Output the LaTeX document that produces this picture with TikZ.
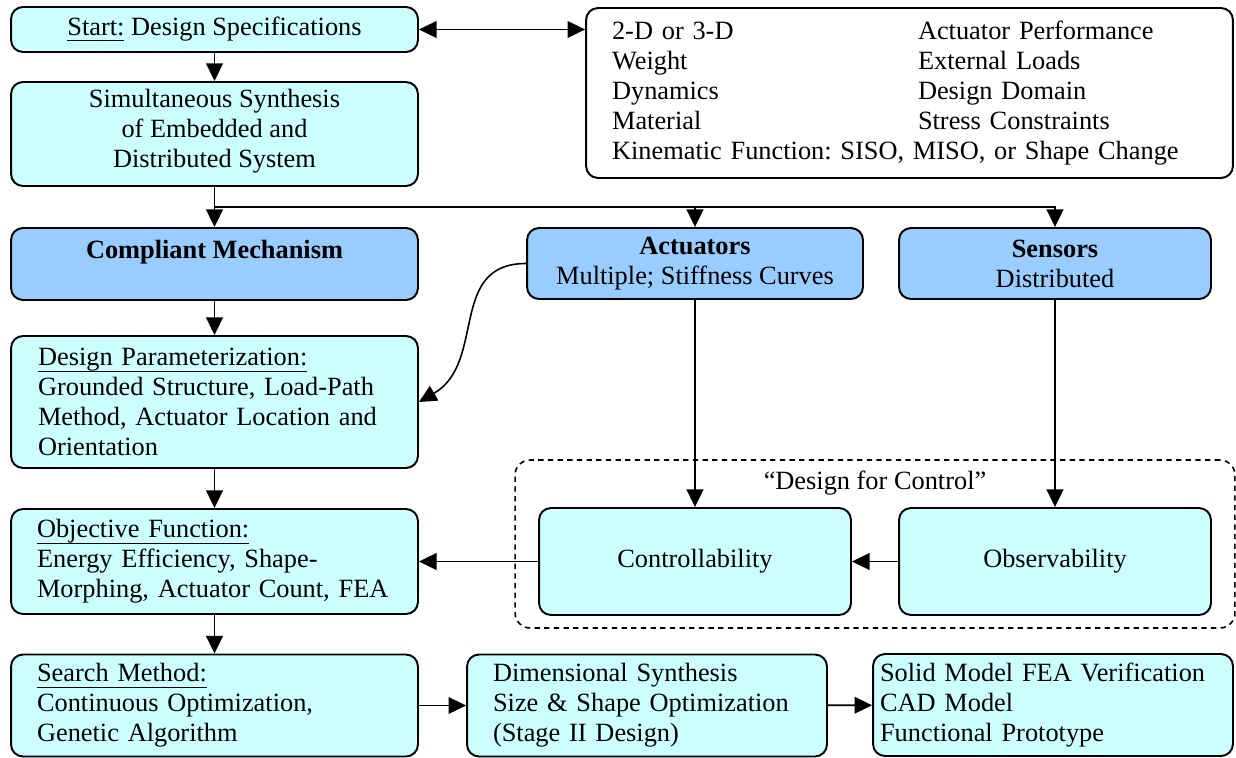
\documentclass[tikz,border=0pt]{standalone}
\usepackage{fontspec}
\setmainfont{Liberation Serif}
\frenchspacing
\usetikzlibrary{arrows.meta}
\definecolor{lightcyan}{HTML}{CCFFFF}
\definecolor{paleblue}{HTML}{99CCFF}
\newcommand{\ulhead}[1]{\underline{\raisebox{0pt}[\height][1.5pt]{#1}}}
\tikzset{
  box/.style={draw, line width=1.1pt, rounded corners=0.24cm, fill=lightcyan, inner sep=0pt,
    font=\fontsize{15}{17}\selectfont},
  bluebox/.style={box, fill=paleblue, align=center},
  leftbox/.style={box, align=left, inner xsep=0.52cm, text width=#1},
  arr/.style={line width=0.9pt, -{Triangle[length=10pt,width=9.5pt]}},
  twoarr/.style={line width=0.9pt, {Triangle[length=10pt,width=9.5pt]}-{Triangle[length=10pt,width=9.5pt]}},
}
\begin{document}
\begin{tikzpicture}[x=0.02cm, y=-0.02cm]
\useasboundingbox (0,0) rectangle (1236,757);

\node[draw, dash pattern=on 3pt off 2.5pt, line width=0.9pt, rounded corners=0.3cm,
  minimum width=14.4cm, minimum height=3.36cm] (dfc) at (875,544) {};
\node[font=\fontsize{15}{17}\selectfont] (dfclabel) at (875,483) {“Design for Control”};

\node[box, minimum width=8.14cm, minimum height=0.9cm] (start) at (214.5,29.5) {\ulhead{Start:} Design Specifications};
\node[box, minimum width=8.14cm, minimum height=2.08cm, align=center] (synth) at (214.5,134)
  {Simultaneous Synthesis\\of Embedded and\\Distributed System\vspace{3pt}};
\node[leftbox=11.9cm, fill=white, minimum width=12.94cm, minimum height=3.4cm] (specs) at (909.5,93)
  {\makebox[6.12cm][l]{2-D or 3-D}Actuator Performance\\
   \makebox[6.12cm][l]{Weight}External Loads\\
   \makebox[6.12cm][l]{Dynamics}Design Domain\\
   \makebox[6.12cm][l]{Material}Stress Constraints\\
   Kinematic Function: SISO, MISO, or Shape Change};

\node[bluebox, minimum width=8.14cm, minimum height=1.44cm] (comp) at (214.5,264) {\textbf{Compliant Mechanism}\\\mbox{}};
\node[bluebox, minimum width=6.72cm, minimum height=1.42cm] (act) at (695,263.5) {\textbf{Actuators}\\Multiple; Stiffness Curves};
\node[bluebox, minimum width=6.24cm, minimum height=1.42cm] (sens) at (1055,263.5) {\textbf{Sensors}\\Distributed};

\node[leftbox=7.06cm, inner xsep=0.54cm, minimum width=8.14cm, minimum height=2.64cm] (dp) at (214.5,402)
  {\ulhead{Design Parameterization:}\\Grounded Structure, Load-Path\\Method, Actuator Location and\\Orientation};
\node[leftbox=7.1cm, minimum width=8.14cm, minimum height=2.1cm] (obj) at (214.5,561.5)
  {\ulhead{Objective Function:}\\Energy Efficiency, Shape-\\Morphing, Actuator Count, FEA};
\node[leftbox=7.1cm, minimum width=8.14cm, minimum height=2.04cm] (search) at (214.5,705.5)
  {\ulhead{Search Method:}\\Continuous Optimization,\\Genetic Algorithm};

\node[box, minimum width=6.24cm, minimum height=2.14cm] (ctrl) at (695,561.5) {Controllability};
\node[box, minimum width=6.24cm, minimum height=2.14cm] (obs) at (1055,561.5) {Observability};

\node[leftbox=6.16cm, minimum width=7.2cm, minimum height=2.04cm] (dim) at (647,705.5)
  {Dimensional Synthesis\\Size \& Shape Optimization\\(Stage II Design)};
\node[leftbox=6.92cm, inner xsep=0.14cm, minimum width=7.2cm, minimum height=2.04cm] (solid) at (1053,705)
  {Solid Model FEA Verification\\CAD Model\\Functional Prototype};

\coordinate (split) at (214.5,207);

\draw[twoarr] (start.east) -- (start.east -| specs.west);
\draw[arr] (start) -- (synth);
\draw[arr] (synth) -- (comp);
\draw[arr] (split) -| (sens);
\draw[arr] (split -| act) -- (act);
\draw[arr] (comp) -- (dp);
\draw[arr] (act.west) to[out=180, in=30, looseness=1.15] (dp.east);
\draw[arr] (act) -- (ctrl);
\draw[arr] (sens) -- (obs);
\draw[arr] (obs) -- (ctrl);
\draw[arr] (ctrl) -- (obj);
\draw[arr] (dp) -- (obj);
\draw[arr] (obj) -- (search);
\draw[arr] (search) -- (dim);
\draw[arr] (dim) -- (solid);
\end{tikzpicture}
\end{document}
